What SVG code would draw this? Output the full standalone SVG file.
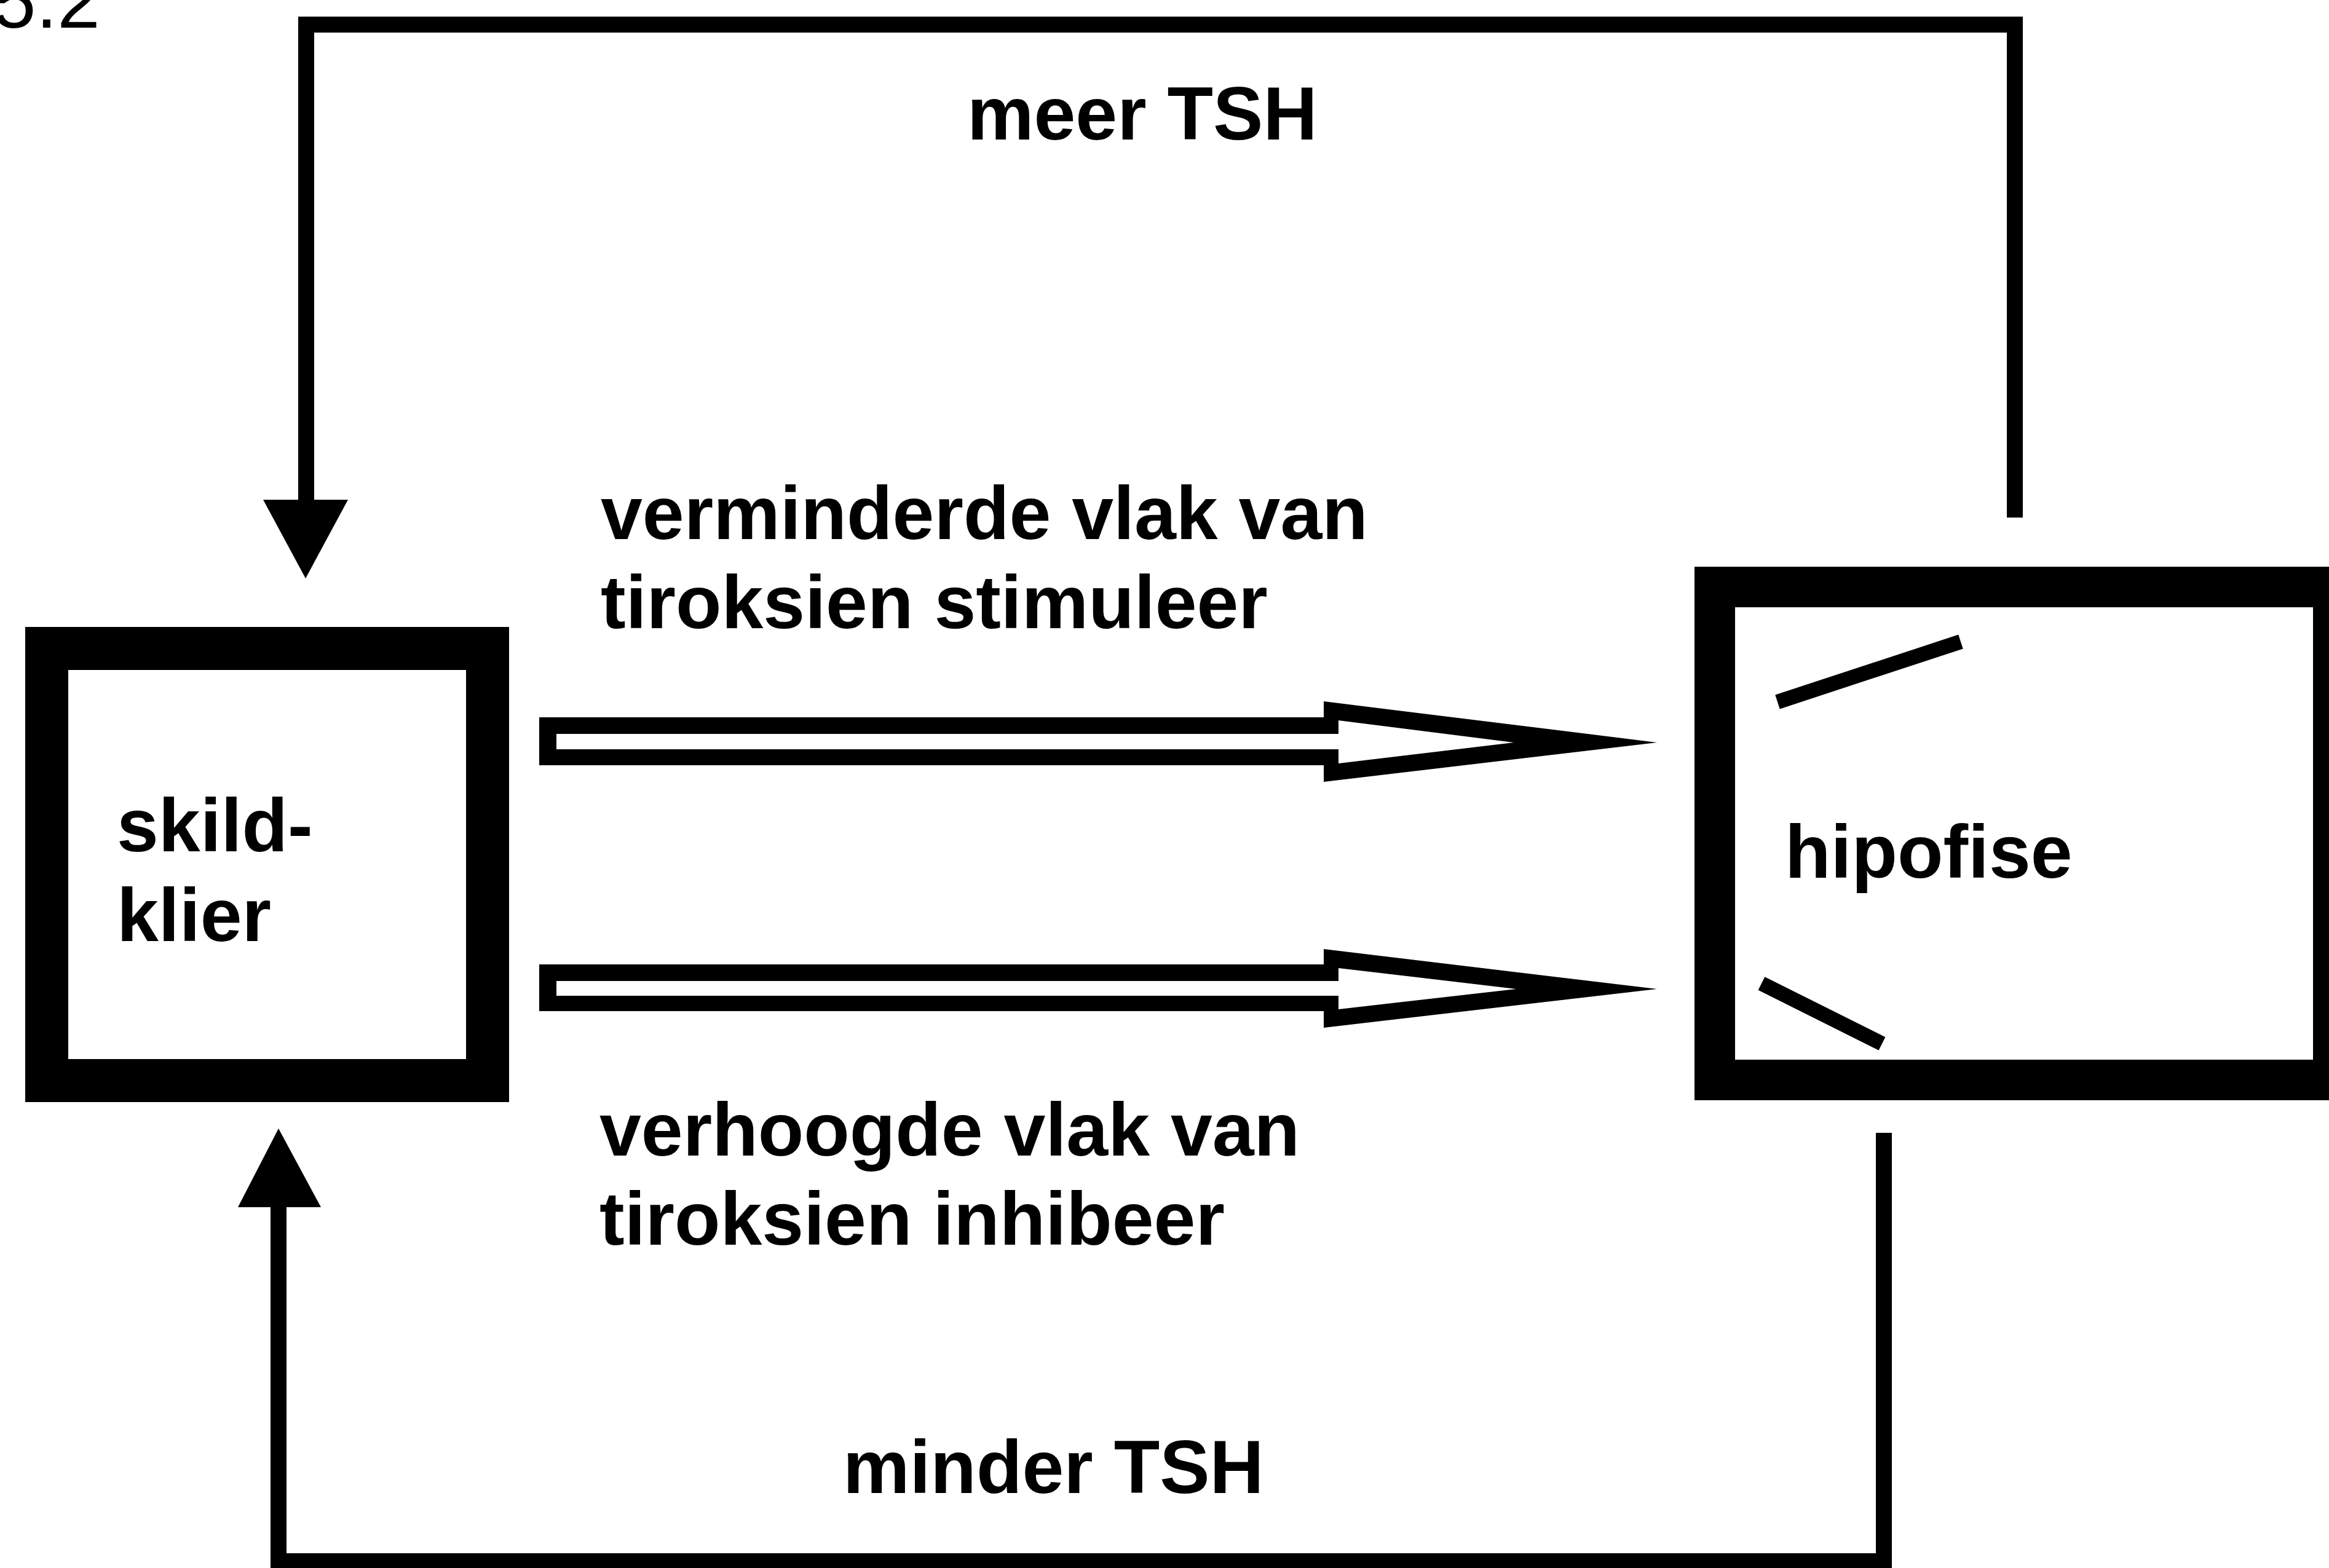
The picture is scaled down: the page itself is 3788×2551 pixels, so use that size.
<svg xmlns="http://www.w3.org/2000/svg" width="3788" height="2551" viewBox="0 0 3788 2551">
<style>
.lbl{font-family:"Liberation Sans",Arial,sans-serif;font-weight:bold;font-size:122px;fill:#000}
.num{font-family:"Liberation Sans",Arial,sans-serif;font-size:125px;fill:#000}
.box{fill:#fff;stroke:#000;stroke-linejoin:miter}
.line{fill:none;stroke:#000;stroke-width:26;stroke-linejoin:miter;stroke-linecap:butt}
.head{fill:#000;stroke:none}
.hollow{fill:#000;fill-rule:evenodd;stroke:none}
.tick{stroke:#000;stroke-width:24;stroke-linecap:butt}
</style>
<rect x="0" y="0" width="3788" height="2551" fill="#fff"/>
<text class="num" x="-11" y="45">5.2</text>

<g id="skildklier">
<rect class="box" x="76" y="1055" width="717" height="703" stroke-width="70"/>
<text class="lbl" x="190" y="1385">skild-</text>
<text class="lbl" x="190" y="1531">klier</text>
</g>

<g id="hipofise">
<rect class="box" x="2789" y="955" width="1006" height="802" stroke-width="66"/>
<line class="tick" x1="2891" y1="1142" x2="3189" y2="1044"/>
<line class="tick" x1="2865" y1="1600" x2="3061" y2="1698"/>
<text class="lbl" x="2903" y="1428">hipofise</text>
</g>

<g id="connectors">
<path class="line" d="M3277,842 V40 H498 V815"/>
<polygon class="head" points="428,813 566,813 497,941"/>
<path class="line" d="M3064,1843 V2540 H453 V1962"/>
<polygon class="head" points="387,1964 522,1964 453,1836"/>
<path class="hollow" d="M877,1167 H2153 V1141 L2695,1208 L2153,1272 V1245 H877 Z M905,1194 V1219 H2177 V1242 L2462,1208 L2177,1172 V1194 Z"/>
<path class="hollow" d="M877,1569 H2153 V1544 L2695,1609 L2153,1672 V1645 H877 Z M905,1596 V1620 H2177 V1642 L2466,1609 L2177,1575 V1596 Z"/>
</g>

<g id="labels">
<text class="lbl" x="1573" y="227">meer TSH</text>
<text class="lbl" x="977" y="877">verminderde vlak van</text>
<text class="lbl" x="977" y="1022">tiroksien stimuleer</text>
<text class="lbl" x="975" y="1880">verhoogde vlak van</text>
<text class="lbl" x="975" y="2025">tiroksien inhibeer</text>
<text class="lbl" x="1371" y="2429">minder TSH</text>
</g>
</svg>
